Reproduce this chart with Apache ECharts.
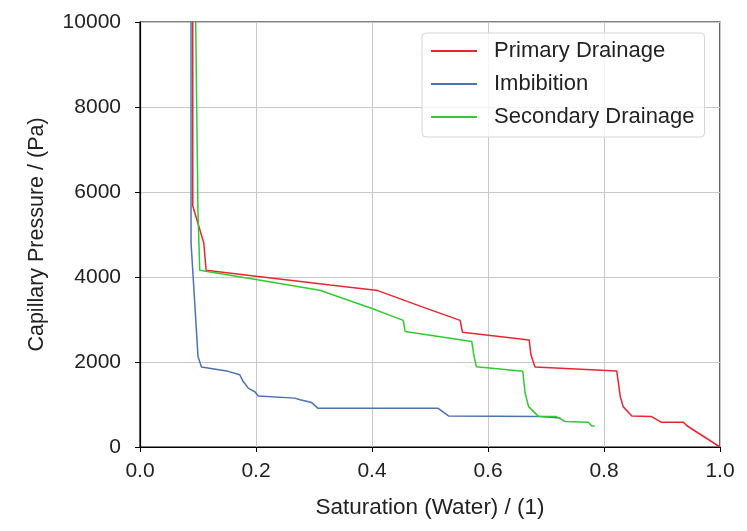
<!DOCTYPE html>
<html>
<head>
<meta charset="utf-8">
<script src="https://cdn.jsdelivr.net/npm/echarts@6/dist/echarts.min.js"></script>
<style>html,body{margin:0;padding:0;background:#fff;}#c{width:747px;height:531px;}</style>
</head>
<body>
<div id="c"></div>
<script>
// Primary Drainage
const primarySat = [0.091, 0.091, 0.110, 0.114, 0.200, 0.328, 0.410, 0.483, 0.552, 0.556, 0.671, 0.674, 0.681, 0.822, 0.828, 0.833, 0.848, 0.882, 0.899, 0.937, 0.943, 1.000];
const primaryPc  = [10000, 5670, 4800, 4160, 4017, 3810, 3680, 3315, 2980, 2700, 2520, 2170, 1880, 1790, 1190, 950, 730, 715, 580, 580, 500, 0];
// Imbibition
const imbSat = [0.088, 0.088, 0.100, 0.106, 0.152, 0.172, 0.178, 0.187, 0.198, 0.204, 0.267, 0.276, 0.296, 0.307, 0.514, 0.532, 0.690, 0.725];
const imbPc  = [10000, 4810, 2130, 1880, 1780, 1700, 1540, 1380, 1300, 1200, 1150, 1110, 1045, 910, 910, 730, 715, 680];
// Secondary Drainage
const secSat = [0.096, 0.100, 0.103, 0.200, 0.310, 0.400, 0.454, 0.457, 0.572, 0.576, 0.580, 0.660, 0.664, 0.670, 0.687, 0.718, 0.733, 0.773, 0.779, 0.784];
const secPc  = [10000, 5500, 4160, 3940, 3690, 3260, 2980, 2720, 2480, 2130, 1890, 1780, 1270, 950, 720, 715, 600, 580, 495, 495];

const xTicks = [0.0, 0.2, 0.4, 0.6, 0.8, 1.0];
const yTicks = [0, 2000, 4000, 6000, 8000, 10000];

const names = ['Primary Drainage', 'Imbibition', 'Secondary Drainage'];
const colors = ['#e8262f', '#4c72b0', '#2fcc2f'];
const zip = (a, b) => a.map((v, i) => [v, b[i]]);
const seriesData = [zip(primarySat, primaryPc), zip(imbSat, imbPc), zip(secSat, secPc)];

const font = 'Liberation Sans, Arial, sans-serif';
const chart = echarts.init(document.getElementById('c'), null, {renderer: 'canvas'});
chart.setOption({
  animation: false,
  backgroundColor: '#fff',
  grid: {left: 140, right: 27, top: 22, bottom: 84, outerBoundsMode: 'none', containLabel: false,
         show: true, borderColor: '#000', borderWidth: 1.2, backgroundColor: 'transparent'},
  xAxis: {
    type: 'value', min: xTicks[0], max: xTicks[xTicks.length - 1], interval: 0.2,
    name: 'Saturation (Water) / (1)', nameLocation: 'middle', nameGap: 49,
    nameTextStyle: {fontFamily: font, fontSize: 22.5, color: '#222'},
    axisLine: {show: true, lineStyle: {color: '#000', width: 1.2}},
    axisTick: {show: true, length: 5, lineStyle: {color: '#000'}},
    axisLabel: {fontFamily: font, fontSize: 21, color: '#222', margin: 14, formatter: v => v.toFixed(1)},
    splitLine: {show: true, lineStyle: {color: '#c8c8c8', width: 1}}
  },
  yAxis: {
    type: 'value', min: yTicks[0], max: yTicks[yTicks.length - 1], interval: 2000,
    name: 'Capillary Pressure / (Pa)', nameLocation: 'middle', nameGap: 92,
    nameTextStyle: {fontFamily: font, fontSize: 21.5, color: '#222'},
    axisLine: {show: true, lineStyle: {color: '#000', width: 1.2}},
    axisTick: {show: true, length: 5, lineStyle: {color: '#000'}},
    axisLabel: {fontFamily: font, fontSize: 21, color: '#222', margin: 19, formatter: v => String(v)},
    splitLine: {show: true, lineStyle: {color: '#c8c8c8', width: 1}}
  },
  legend: {
    orient: 'vertical', left: 422, top: 33,
    padding: [6, 10, 8, 9],
    itemGap: 9, itemWidth: 46, itemHeight: 2, icon: 'rect',
    borderColor: '#d5d5d5', borderWidth: 1, borderRadius: 4, backgroundColor: 'rgba(255,255,255,0.8)',
    textStyle: {fontFamily: font, fontSize: 22, color: '#222', padding: [0, 0, 0, 12], lineHeight: 24},
    data: names
  },
  series: names.map((n, i) => ({
    name: n, type: 'line', data: seriesData[i], showSymbol: false, symbol: 'none',
    lineStyle: {color: colors[i], width: 1.5}, itemStyle: {color: colors[i]}, clip: true
  }))
});
</script>
</body>
</html>
